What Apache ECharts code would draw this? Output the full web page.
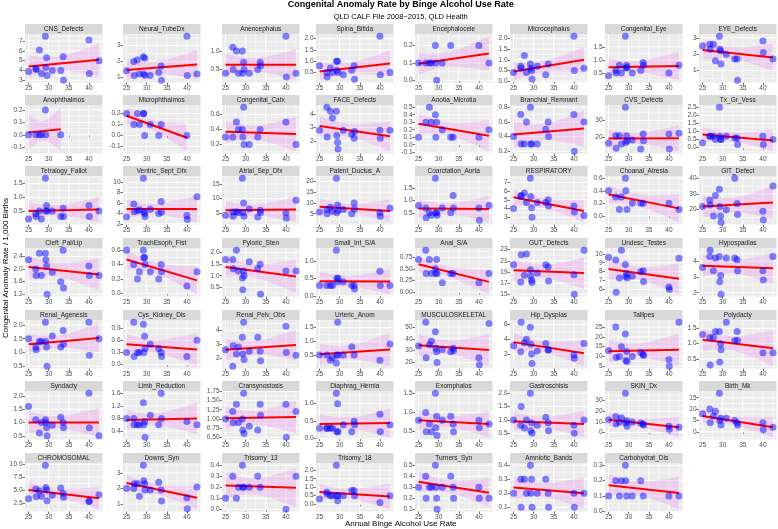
<!DOCTYPE html>
<html><head><meta charset="utf-8">
<script src="https://cdn.jsdelivr.net/npm/echarts@6/dist/echarts.min.js"></script>
<style>html,body{margin:0;padding:0;background:#fff}#c{width:778px;height:529px}</style>
</head><body><div id="c"></div><script>
// Binge alcohol use rate (x) shared by every panel
const X = [25.0, 26.8, 26.9, 27.7, 28.2, 29.2, 29.3, 29.5, 29.6, 30.9, 33.0, 33.6, 33.7, 40.0, 40.1, 42.5];
const xTickLabels = ['25', '30', '35', '40'];

const names = ['CNS_Defects','Neural_TubeDx','Anencephalus','Spina_Bifida','Encephalocele','Microcephalus','Congenital_Eye','EYE_Defects',
 'Anophthalmos','Microphthalmos','Congenital_Catx','FACE_Defects','Anotia_Microtia','Branchial_Remnant','CVS_Defects','Tx_Gr_Vess',
 'Tetralogy_Fallot','Ventric_Sept_Dfx','Atrial_Sep_Dfx','Patent_Ductus_A','Coarctation_Aorta','RESPIRATORY','Choanal_Atresia','GIT_Defect',
 'Cleft_Pal/Lip','TrachEsoph_Fist','Pyloric_Sten','Small_Int_S/A','Anal_S/A','GUT_Defects','Undesc_Testes','Hypospadias',
 'Renal_Agenesis','Cys_Kidney_Dis','Renal_Pelv_Obs','Urteric_Anom','MUSCULOSKELETAL','Hip_Dysplas','Tallipes','Polydacty',
 'Syndacty','Limb_Reduction','Cransynostosis','Diaphrag_Hernia','Exomphalos','Gastroschisis','SKIN_Dx','Birth_Mk',
 'CHROMOSOMAL','Downs_Syn','Trisomy_13','Trisomy_18','Turners_Syn','Amniotic_Bands','Carbohydrat_Dis'];

// anomaly rates per 1,000 births, aligned with X (null = no point)
const yValues = [
 [3.9,4.2,4.1,6.1,3.7,7.5,4.3,5.3,3.5,4.0,4.0,5.4,3.0,7.1,3.7,5.0],
 [1.4,2.0,1.1,2.1,1.2,2.3,1.2,2.2,1.1,1.1,1.3,1.7,0.8,3.6,1.1,1.2],
 [0.4,1.1,0.5,1.0,0.4,1.0,0.4,0.7,0.5,0.4,0.5,0.7,0.6,1.4,0.3,0.4],
 [0.8,0.5,0.3,0.7,0.5,1.0,0.6,1.0,0.5,0.4,0.6,0.8,0.2,2.1,0.4,0.5],
 [0.1,0.1,null,0.1,0.1,0.2,0.1,0.0,null,0.1,0.2,null,null,0.2,null,0.1],
 [0.4,0.7,0.6,1.2,0.4,0.8,0.6,0.5,0.1,0.7,0.3,0.8,null,2.1,0.5,0.6],
 [0.4,0.6,0.5,0.8,0.5,1.9,0.7,0.8,0.7,0.5,0.6,0.9,0.8,0.5,null,0.8],
 [2.5,2.6,2.3,2.6,1.6,3.1,2.3,2.2,1.4,2.0,1.7,1.7,0.4,2.8,2.1,1.7],
 [0,0,null,0,0,0.2,0,null,null,null,0,null,null,null,null,null],
 [0.2,0.1,null,0.2,0.1,0.2,0.2,0.0,null,0.1,0.0,0.1,null,0.0,null,null],
 [0.3,0.3,null,0.5,0.4,0.4,0.3,0.7,0.2,0.2,0.3,0.4,null,0.5,null,0.2],
 [2.8,4.5,2.3,4.2,3.7,4.2,2.4,1.9,1.4,2.8,2.5,2.2,2.7,2.8,2.2,2.8],
 [0.1,0.3,null,0.5,0.3,0.4,0.1,0.3,null,0.2,0.1,0.1,null,0.1,null,0.2],
 [0.4,0.7,0.3,0.3,0.6,0.8,0.3,0.3,null,0.3,0.5,0.6,0.4,0.7,0.2,0.6],
 [16.5,21,13.5,21,16,38,17,21,18,18.5,13,22,18,22,13,22.5],
 [0.3,0.7,0.7,0.7,0.5,2.5,0.7,0.5,0.5,0.7,0.6,0.6,0.2,0.7,0.2,0.5],
 [0.2,0.4,0.3,0.5,0.2,1.7,0.5,0.7,0.5,0.5,0.3,0.6,0.3,0.7,0.3,0.5],
 [3.3,5.8,4.3,4.5,4.7,10.8,4.3,4.0,3.4,4.8,4.0,6.3,4.2,3.6,2.8,7.2],
 [4.3,5.4,4.0,5.5,5.3,17,5.3,8.5,4.0,6.5,3.7,6.0,5.3,5.1,3.3,9.5],
 [5.8,7.0,5.0,8.0,6.0,21.5,5.5,9.0,6.5,7.0,5.0,10.0,7.2,5.5,3.8,7.5],
 [0.8,0.7,0.3,0.5,0.4,1.9,0.5,0.5,0.4,0.7,0.5,1.2,0.7,0.7,0.2,0.8],
 [4.0,5.4,5.5,5.8,4.7,7.5,5.4,4.1,3.0,4.7,4.7,5.0,4.3,4.3,3.6,3.2],
 [0.4,0.3,null,0.1,0.3,0.6,0.4,null,0.1,0.2,0.2,0.2,null,0.2,null,0.1],
 [22,26,23,16,29,33,22,16,12,20,40,24,17,19,13.5,35],
 [2.3,2.0,1.8,2.5,1.8,2.5,2.3,2.1,1.2,1.9,1.6,2.6,1.4,2.1,1.8,1.8],
 [0.6,0.4,null,0.2,0.3,0.6,0.5,0.5,0.4,0.3,0.2,0.4,0.3,0.1,null,0.3],
 [1.7,1.7,1.3,2.1,1.2,0.9,0.4,1.2,1.0,1.6,1.3,1.5,0.2,1.2,null,1.2],
 [0.3,0.3,null,0.3,0.3,1.3,0.5,0.4,0.5,0.4,0.3,0.3,0.2,0.7,0.3,0.3],
 [0.7,0.9,0.4,0.7,0.4,0.5,0.4,0.7,0.4,0.2,0.4,0.4,null,0.2,null,0.4],
 [20.3,17.2,22.1,18.4,22.2,19.4,18.3,17.5,17.1,18.8,20.3,19.9,17.4,18.5,15.0,22.9],
 [9.6,9.3,5.7,7.3,10.4,8.8,7.5,7.8,7.3,7.5,8.0,8.1,6.9,6.3,6.0,9.5],
 [3.6,4.3,4.7,3.4,4.2,4.3,2.7,3.1,1.9,4.2,4.2,4.1,3.4,3.4,2.8,4.3],
 [1.5,1.2,1.1,1.4,1.4,2.1,1.4,1.2,0.5,1.6,1.2,1.8,1.3,2.1,0.9,1.5],
 [0.3,1.05,0.2,0.3,0.3,1.0,0.3,0.7,0.4,0.5,0.4,0.3,0.2,0.2,null,0.6],
 [2.6,1.4,2.9,2.3,2.8,3.5,2.3,4.6,1.9,2.5,3.5,2.5,1.8,4.3,2.4,2.2],
 [0.5,0.5,null,0.3,0.4,0.2,0.5,1.7,0.5,0.5,0.8,0.5,null,0.3,null,0.9],
 [34,54,24,35,38,46,32,29,20,31,29,32,30,24,18,53],
 [3.1,2.3,6.3,3.5,4.0,5.6,3.3,2.0,0.7,2.4,3.4,2.5,2.6,1.9,1.4,3.4],
 [13,25,9.5,10,15,21.5,8,12.5,7.5,10,12,11,10.5,8.5,5,27.5],
 [1.3,1.2,0.3,1.2,1.4,1.4,0.4,1.0,0.8,1.7,1.1,1.4,1.1,0.7,null,0.7],
 [1.6,1.1,null,0.6,1.0,1.1,1.0,0.8,0.5,0.9,1.2,1.0,0.8,2.1,0.8,0.5],
 [0.8,0.8,0.6,0.6,0.6,1.3,0.6,0.7,0.2,0.9,0.6,1.6,0.8,0.7,null,0.6],
 [1.0,1.2,0.9,1.4,0.9,1.0,0.7,1.7,0.6,0.8,0.7,1.4,1.1,1.4,0.5,1.2],
 [0.3,0.3,0.3,0.3,0.3,1.3,0.2,1.0,0.2,0.4,0.2,0.5,0.4,0.7,0.2,0.4],
 [0.8,1.0,0.5,0.7,0.5,1.5,0.6,0.9,0.4,0.8,0.9,0.7,0.5,0.8,0.6,0.7],
 [1.0,0.8,1.5,0.7,1.0,2.0,0.6,0.9,0.5,0.8,1.1,0.9,0.6,0.8,0.5,1.0],
 [12,15,8,10,14,37,9,11,6,10,9,8,7,6,3,5],
 [8,10,4,7,9,17,5,6,3,6,5,4,3,4,1,2],
 [3.3,5.2,3.7,4.8,3.8,9.8,5.5,5.0,2.9,4.0,5.4,4.3,3.6,2.8,2.8,4.1],
 [2.0,2.0,2.3,2.3,1.5,3.5,2.5,2.3,1.9,1.9,2.4,1.9,1.2,1.4,0.7,2.1],
 [0.1,0.3,null,0.1,0.2,0.4,0.2,0.2,null,0.2,0.3,0.2,null,0.0,null,0.3],
 [0.3,0.7,0.6,0.5,0.5,2.3,0.5,0.2,0.5,0.5,0.8,0.8,0.5,0.1,null,0.5],
 [0.3,0.4,0.2,0.3,0.3,0.5,0.3,0.2,0.1,0.3,0.4,0.3,0.2,0.3,0.2,0.2],
 [0.2,0.3,0.1,0.3,0.2,0.4,0.2,0.3,0.1,0.2,0.3,0.2,0.1,0.2,0.1,0.2],
 [0.1,0.2,null,0.1,0.2,0.3,0.2,0.1,null,0.1,0.2,0.1,null,0.1,null,0.1]
];

// y tick labels per panel
const yTickLabels = [
 ['3','4','5','6','7'],['1','2','3'],['0.5','1.0'],['0.5','1.0','1.5','2.0'],['0.0','0.1','0.2'],['0.0','0.5','1.0','1.5','2.0'],['0.5','1.0','1.5'],['1','2','3'],
 ['-0.1','0.0','0.1','0.2'],['-0.1','0.0','0.1','0.2'],['0.2','0.4','0.6'],['2','3','4'],['-0.1','0.0','0.1','0.2','0.3','0.4','0.5'],['0.2','0.4','0.6','0.8'],['20','30'],['0.0','0.5','1.0','1.5','2.0','2.5'],
 ['0.0','0.5','1.0','1.5'],['2','4','6','8','10'],['5','10','15'],['5','10','15','20'],['0.5','1.0','1.5'],['3','4','5','6','7'],['0.0','0.2','0.4','0.6'],['20','30','40'],
 ['1.2','1.6','2.0','2.4'],['0.0','0.2','0.4','0.6'],['0.5','1.0','1.5','2.0'],['0.0','0.5','1.0'],['0.00','0.25','0.50','0.75'],['15','17','19','21','23'],['6','7','8','9','10'],['2','3','4'],
 ['0.5','1.0','1.5','2.0'],['0.0','0.3','0.6','0.9'],['2','3','4'],['0.0','0.5','1.0','1.5'],['20','30','40','50'],['0','2','4','6'],['5','10','15','20','25'],['0.5','1.0','1.5'],
 ['0.5','1.0','1.5','2.0'],['0.4','0.8','1.2','1.6'],['0.50','0.75','1.00','1.25','1.50','1.75'],['0.0','0.5','1.0'],['0.5','1.0','1.5'],['0.5','1.0','1.5','2.0'],['0','10','20','30'],['0','5','10','15'],
 ['2.5','5.0','7.5','10.0'],['1','2','3'],['0.0','0.1','0.2','0.3','0.4'],['0.0','0.5','1.0','1.5','2.0'],['0.1','0.2','0.3','0.4','0.5'],['0.0','0.1','0.2','0.3','0.4'],['0.0','0.1','0.2','0.3']
];

// fitted line value at the panel's lowest and highest x
const lineEnds = [
 [4.4,5.1],[1.45,1.8],[0.63,0.63],[0.55,0.9],[0.095,0.155],[0.45,1.0],[0.72,0.77],[2.25,1.8],
 [0.02,0.045],[0.18,-0.02],[0.37,0.34],[3.1,2.35],[0.28,0.12],[0.43,0.51],[19.3,19.5],[0.82,0.45],
 [0.5,0.55],[4.85,4.85],[6.0,6.3],[8.2,6.3],[0.67,0.65],[5.3,3.7],[0.34,0.12],[22,24.5],
 [2.07,1.83],[0.47,0.18],[1.38,0.97],[0.42,0.41],[0.6,0.22],[19.3,18.8],[8.3,7.2],[3.72,3.55],
 [1.3,1.53],[0.5,0.37],[2.6,2.95],[0.52,0.7],[34.5,30.5],[3.6,2.1],[12.7,13.5],[1.13,0.85],
 [1.0,1.0],[0.75,0.8],[1.02,1.05],[0.42,0.45],[0.8,0.7],[0.95,0.85],[12,5],[7,2],
 [5.0,3.4],[2.35,1.4],[0.215,0.195],[0.72,0.45],[0.35,0.25],[0.24,0.2],[0.17,0.12]
];

// ---------- layout ----------
const FONT = 'Liberation Sans, Arial, Helvetica, sans-serif';
const colLeft = [25, 123, 222, 316, 415, 510, 605, 699];
const rowTop = [24, 95, 166, 238, 310, 381, 453];
const PW = 77.5, STRIP = 10, PH = 48.5;

const xLo0 = Math.min(...X), xHi0 = Math.max(...X);
const XMIN = xLo0 - (xHi0 - xLo0) * 0.05, XMAX = xHi0 + (xHi0 - xLo0) * 0.05;
const xMajor = xTickLabels.map(Number);
function minorOf(major, lo, hi) {
  const step = major[1] - major[0];
  const out = [];
  for (let k = -1; k < major.length; k++) {
    const v = (k < 0 ? major[0] - step : major[k]) + step / 2;
    if (v > lo && v < hi) out.push(v);
  }
  return out;
}
function tq(df) {
  const t = {1:12.706,2:4.303,3:3.182,4:2.776,5:2.571,6:2.447,7:2.365,8:2.306,9:2.262,10:2.228,11:2.201,12:2.179,13:2.160,14:2.145,15:2.131,16:2.120};
  return t[df] || 2.1;
}

const option = { animation: false, grid: [], xAxis: [], yAxis: [], series: [], graphic: [] };

names.forEach((name, i) => {
  const r = Math.floor(i / 8), c = i % 8;
  const left = colLeft[c], top = rowTop[r] + STRIP;
  const pts = [];
  X.forEach((x, k) => { if (yValues[i][k] != null) pts.push([x, yValues[i][k]]); });
  const xs = pts.map(p => p[0]);
  const xmin = Math.min(...xs), xmax = Math.max(...xs);
  const [y0, y1] = lineEnds[i];
  const fit = x => y0 + (y1 - y0) * (x - xmin) / (xmax - xmin);
  const n = pts.length;
  const xbar = xs.reduce((a, b) => a + b, 0) / n;
  const sxx = xs.reduce((a, x) => a + (x - xbar) ** 2, 0);
  const sse = pts.reduce((a, p) => a + (p[1] - fit(p[0])) ** 2, 0);
  const s = Math.sqrt(sse / (n - 2)), t = tq(n - 2);
  const band = [];
  for (let k = 0; k <= 60; k++) {
    const x = xmin + (xmax - xmin) * k / 60;
    const hw = t * s * Math.sqrt(1 / n + (x - xbar) ** 2 / sxx);
    band.push([x, fit(x) - hw, fit(x) + hw]);
  }
  let lo = Math.min(...pts.map(p => p[1]), ...band.map(b => b[1]));
  let hi = Math.max(...pts.map(p => p[1]), ...band.map(b => b[2]));
  const pad = (hi - lo) * 0.05; lo -= pad; hi += pad;
  const labels = yTickLabels[i];
  const yMajor = labels.map(Number);
  const yMinor = minorOf(yMajor, lo, hi);
  const xMinor = minorOf(xMajor, XMIN, XMAX);

  option.grid.push({ left: left, top: top, width: PW, height: PH, show: true, backgroundColor: '#EBEBEB', borderWidth: 0 });
  option.xAxis.push({
    gridIndex: i, type: 'value', min: XMIN, max: XMAX,
    axisLine: { show: false },
    axisTick: { show: true, length: 2.5, lineStyle: { color: '#333333', width: 0.7 }, customValues: xMajor },
    axisLabel: { customValues: xMajor, fontSize: 6.5, color: '#4D4D4D', margin: 2.5, fontFamily: FONT },
    splitLine: { show: false }
  });
  option.yAxis.push({
    gridIndex: i, type: 'value', min: lo, max: hi,
    axisLine: { show: false },
    axisTick: { show: true, length: 2.5, lineStyle: { color: '#333333', width: 0.7 }, customValues: yMajor },
    axisLabel: { customValues: yMajor, fontSize: 6.5, color: '#4D4D4D', margin: 2.5, fontFamily: FONT,
      formatter: v => { const k = yMajor.findIndex(m => Math.abs(m - v) < 1e-9); return k >= 0 ? labels[k] : ''; } },
    splitLine: { show: false }
  });
  option.series.push({
    type: 'custom', xAxisIndex: i, yAxisIndex: i, silent: true, z: 1, clip: true,
    data: [[xmin, fit(xmin)]],
    renderItem: (params, api) => {
      const ch = [];
      const vline = (v, w) => { const a = api.coord([v, lo]), b = api.coord([v, hi]); ch.push({ type: 'line', shape: { x1: a[0], y1: a[1], x2: b[0], y2: b[1] }, style: { stroke: '#FFFFFF', lineWidth: w } }); };
      const hline = (v, w) => { const a = api.coord([XMIN, v]), b = api.coord([XMAX, v]); ch.push({ type: 'line', shape: { x1: a[0], y1: a[1], x2: b[0], y2: b[1] }, style: { stroke: '#FFFFFF', lineWidth: w } }); };
      xMinor.forEach(v => vline(v, 0.5)); yMinor.forEach(v => hline(v, 0.5));
      xMajor.forEach(v => vline(v, 1)); yMajor.filter(v => v > lo && v < hi).forEach(v => hline(v, 1));
      const poly = band.map(b => api.coord([b[0], b[1]])).concat(band.slice().reverse().map(b => api.coord([b[0], b[2]])));
      ch.push({ type: 'polygon', shape: { points: poly }, style: { fill: 'rgba(238,130,238,0.27)', stroke: null } });
      return { type: 'group', children: ch };
    }
  });
  option.series.push({
    type: 'line', xAxisIndex: i, yAxisIndex: i, z: 3, silent: true, symbol: 'none',
    data: [[xmin, y0], [xmax, y1]], lineStyle: { color: '#FF0000', width: 2 }
  });
  option.series.push({
    type: 'scatter', xAxisIndex: i, yAxisIndex: i, z: 4, silent: true, symbolSize: 7,
    data: pts, itemStyle: { color: 'rgba(0,0,255,0.6)' }
  });
  option.graphic.push({ type: 'rect', shape: { x: left, y: rowTop[r], width: PW, height: STRIP }, style: { fill: '#D9D9D9' } });
  option.graphic.push({ type: 'text', x: left + PW / 2, y: rowTop[r] + STRIP / 2 + 0.5,
    style: { text: name, fill: '#1A1A1A', font: '6.5px ' + FONT, textAlign: 'center', textVerticalAlign: 'middle' } });
});

const panelMid = (colLeft[0] + colLeft[7] + PW) / 2;
option.graphic.push({ type: 'text', x: panelMid, y: 5, style: { text: 'Congenital Anomaly Rate by Binge Alcohol Use Rate', fill: '#000', font: 'bold 9px ' + FONT, textAlign: 'center', textVerticalAlign: 'middle' } });
option.graphic.push({ type: 'text', x: panelMid, y: 16.5, style: { text: 'QLD CALF File 2008~2015, QLD Health', fill: '#000', font: '7.5px ' + FONT, textAlign: 'center', textVerticalAlign: 'middle' } });
option.graphic.push({ type: 'text', x: panelMid, y: 524, style: { text: 'Annual Binge Alcohol Use Rate', fill: '#000', font: '8px ' + FONT, textAlign: 'center', textVerticalAlign: 'middle' } });
option.graphic.push({ type: 'text', x: 6, y: 268, rotation: Math.PI / 2, style: { text: 'Congenital Anomaly Rate / 1,000 Births', fill: '#000', font: '8px ' + FONT, textAlign: 'center', textVerticalAlign: 'middle' } });

const chart = echarts.init(document.getElementById('c'), null, { renderer: 'canvas' });
chart.setOption(option);
</script></body></html>
